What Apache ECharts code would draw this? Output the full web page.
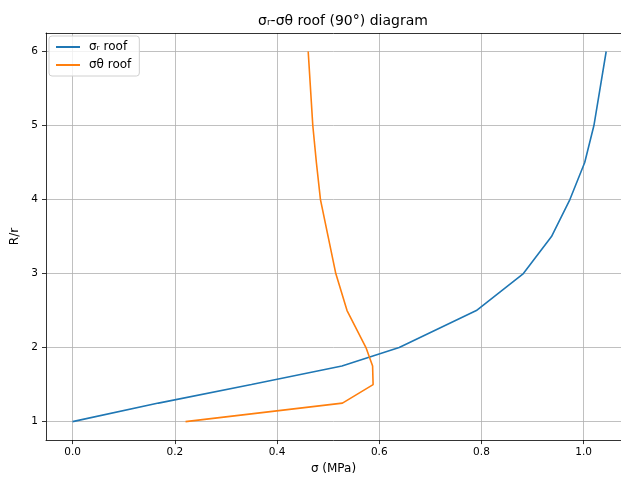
<!DOCTYPE html>
<html>
<head>
<meta charset="utf-8">
<script src="https://cdn.jsdelivr.net/npm/echarts@6/dist/echarts.min.js"></script>
<style>
  html, body { margin: 0; padding: 0; background: #fff; }
  #chart { width: 621px; height: 480px; }
</style>
</head>
<body>
<div id="chart"></div>
<script>
// R/r 值
var ratio = [1, 1.25, 1.5, 1.75, 2, 2.5, 3, 3.5, 4, 4.5, 5, 6]
// σr roof (MPa)
var sigmaR = [0, 0.168, 0.35, 0.527, 0.639, 0.79, 0.882, 0.937, 0.973, 1.002, 1.02, 1.044]
// σθ roof (MPa)
var sigmaT = [0.221, 0.528, 0.588, 0.587, 0.574, 0.537, 0.515, 0.5, 0.485, 0.477, 0.47, 0.461]
var xTicks = [0, 0.2, 0.4, 0.6, 0.8, 1.0]
var yTicks = [1, 2, 3, 4, 5, 6]

var font = 'DejaVu Sans'
var pairs = function (xs) {
  return xs.map(function (v, i) { return [v, ratio[i]] })
}

var myChart = echarts.init(document.getElementById('chart'))
var option = {
  backgroundColor: '#fff',
  animation: false,
  title: {
    text: 'σᵣ-σθ roof (90°) diagram',
    left: 338,
    top: 9,
    textAlign: 'center',
    textStyle: { fontFamily: font, fontSize: 14, fontWeight: 'normal', color: '#000' },
  },
  legend: {
    left: 49,
    top: 36,
    orient: 'vertical',
    itemWidth: 24,
    itemHeight: 2,
    itemGap: 6,
    padding: [5, 8, 5, 7],
    backgroundColor: 'rgba(255,255,255,0.8)',
    borderColor: '#d0d0d0',
    borderWidth: 1,
    borderRadius: 3,
    textStyle: { fontFamily: font, fontSize: 12, color: '#000', padding: [0, 0, 0, 4] },
    data: [
      { name: 'σᵣ roof', icon: 'rect' },
      { name: 'σθ roof', icon: 'rect' },
    ],
  },
  grid: { left: 46, right: 0, top: 33, bottom: 37, containLabel: false },
  xAxis: [
    {
      type: 'value',
      min: -0.052,
      max: 1.073,
      name: 'σ (MPa)',
      nameLocation: 'middle',
      nameGap: 19,
      nameTextStyle: { fontFamily: font, fontSize: 12, color: '#000' },
      axisLine: { show: true, onZero: false, lineStyle: { color: '#000', width: 0.8 } },
      axisTick: { show: true, length: 4, customValues: xTicks, lineStyle: { color: '#000', width: 0.8 } },
      axisLabel: {
        customValues: xTicks,
        fontFamily: font, fontSize: 10.5, color: '#000', margin: 7,
        formatter: function (v) { return v.toFixed(1) },
      },
      splitLine: { show: true, lineStyle: { color: '#b0b0b0', width: 0.8 } },
    },
    {
      // 顶部边框
      type: 'value',
      position: 'top',
      min: -0.052,
      max: 1.073,
      axisLine: { show: true, onZero: false, lineStyle: { color: '#000', width: 0.8 } },
      axisTick: { show: false },
      axisLabel: { show: false },
      splitLine: { show: false },
    },
  ],
  yAxis: {
    type: 'value',
    min: 0.75,
    max: 6.25,
    name: 'R/r',
    nameLocation: 'middle',
    nameGap: 20,
    nameRotate: 90,
    nameTextStyle: { fontFamily: font, fontSize: 12, color: '#000' },
    axisLine: { show: true, onZero: false, lineStyle: { color: '#000', width: 0.8 } },
    axisTick: { show: true, length: 4, customValues: yTicks, lineStyle: { color: '#000', width: 0.8 } },
    axisLabel: { customValues: yTicks, fontFamily: font, fontSize: 10.5, color: '#000', margin: 8 },
    splitLine: { show: true, lineStyle: { color: '#b0b0b0', width: 0.8 } },
  },
  series: [
    {
      name: 'σᵣ roof',
      type: 'line',
      data: pairs(sigmaR),
      showSymbol: false,
      symbol: 'none',
      color: '#1f77b4',
      lineStyle: { color: '#1f77b4', width: 1.6 },
    },
    {
      name: 'σθ roof',
      type: 'line',
      data: pairs(sigmaT),
      showSymbol: false,
      symbol: 'none',
      color: '#ff7f0e',
      lineStyle: { color: '#ff7f0e', width: 1.6 },
    },
  ],
}
myChart.setOption(option)
</script>
</body>
</html>
